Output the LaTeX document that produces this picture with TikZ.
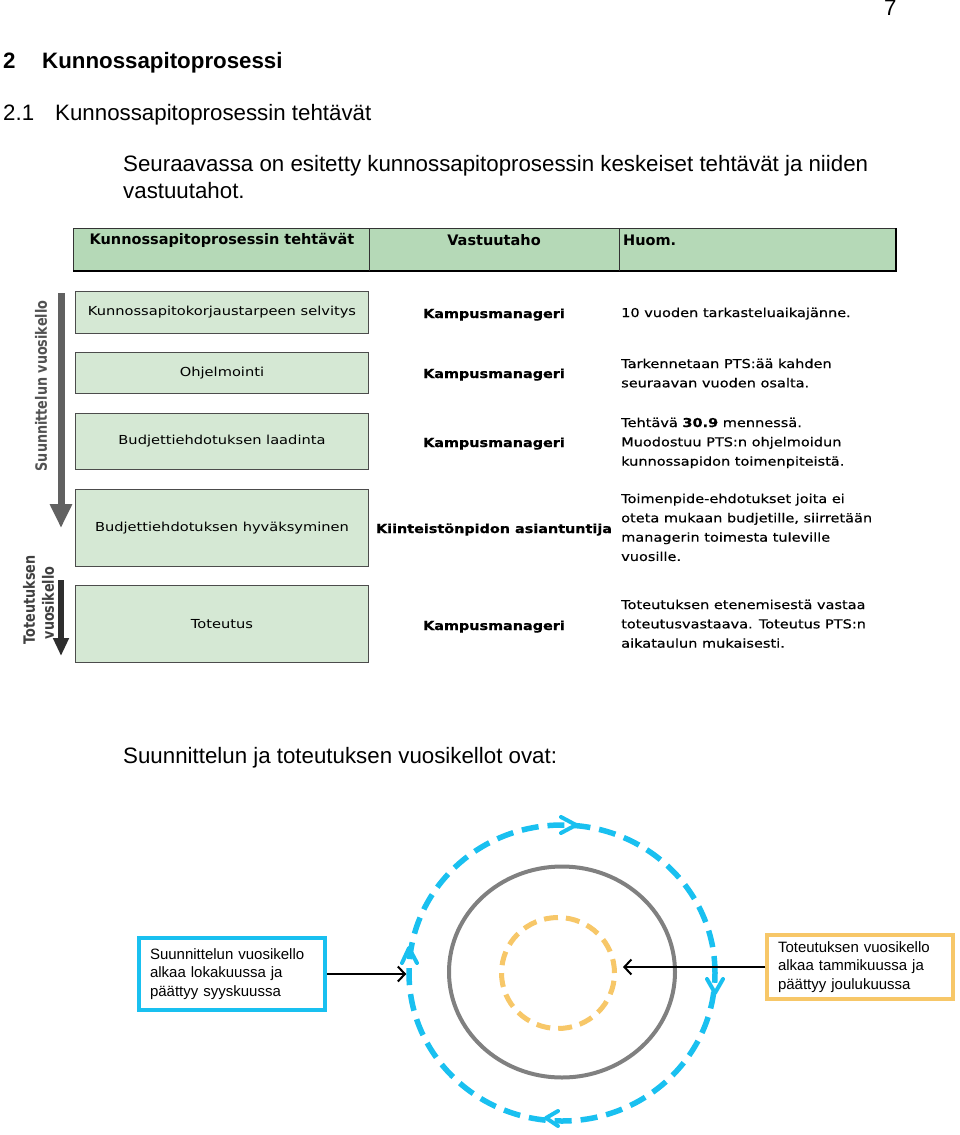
\documentclass[tikz,border=0pt]{standalone}
\usepackage{fontspec}
\setmainfont{Liberation Sans}
\newfontfamily\vfont[FakeStretch=1.18]{DejaVu Sans}
\newfontfamily\nfont[FakeStretch=1.18, FakeBold=0.5]{DejaVu Sans}
\newfontfamily\rfont[FakeStretch=1.16, BoldFeatures={FakeBold=0.8}]{DejaVu Sans}
\newfontfamily\hfont{DejaVu Sans}
\newfontfamily\sidefont[FakeStretch=0.82]{DejaVu Sans}
\usetikzlibrary{shapes.geometric,arrows.meta}
\definecolor{hdrgreen}{RGB}{181,217,183}
\definecolor{rowgreen}{RGB}{213,232,212}
\definecolor{cyanb}{RGB}{25,192,240}
\definecolor{orangeb}{RGB}{247,199,104}
\definecolor{grayc}{RGB}{128,128,128}
\tikzset{
  body/.style={font=\fontsize{22.3}{26}\selectfont, anchor=base west, inner sep=0pt},
  bodyb/.style={body, font=\bfseries\fontsize{22.3}{26}\selectfont},
  hdrtext/.style={font=\hfont\bfseries\fontsize{14.5}{16}\selectfont, inner sep=0pt},
  rowbox/.style={draw=black!70, line width=1pt, fill=rowgreen, anchor=north west,
    minimum width=293pt, font=\vfont\fontsize{12.4}{15}\selectfont},
  resp/.style={font=\rfont\bfseries\fontsize{12.4}{15}\selectfont, anchor=base, inner sep=0pt},
  note/.style={font=\nfont\fontsize{12.3}{19.3}\selectfont, anchor=north west, align=left, inner sep=0pt},
  sidetext/.style={rotate=90, font=\sidefont\bfseries\fontsize{15.6}{17}\selectfont, inner sep=0pt},
  infobox/.style={line width=3.5pt, minimum width=186pt, text width=164pt, align=left,
    font=\fontsize{15}{18.5}\selectfont},
  callout/.style={line width=2pt, -{Straight Barb[length=7pt,width=15pt]}},
  chev/.style={cyanb, line width=4pt, line cap=round, line join=round}
}
\begin{document}
\begin{tikzpicture}[x=1pt,y=-1pt]
\useasboundingbox (0,0) rectangle (960,1135);
\fill[white] (0,0) rectangle (960,1135);

% page heading texts
\node[body] (pg) at (884,16) {7};
\node[bodyb] (h1n) at (3,68) {2};
\node[bodyb] (h1) at (42,68) {Kunnossapitoprosessi};
\node[body] (h2n) at (3,120) {2.1};
\node[body] (h2) at (55,120) {Kunnossapitoprosessin tehtävät};
\node[body] (p1) at (123,171) {Seuraavassa on esitetty kunnossapitoprosessin keskeiset tehtävät ja niiden};
\node[body] (p2) at (123,198) {vastuutahot.};

% table header
\fill[hdrgreen] (73,228) rectangle (896,271);
\draw[black!80, line width=1pt] (73,271) -- (73,228) -- (896,228);
\draw[black, line width=2.6pt] (73,271) -- (896,271) -- (896,228);
\draw[black!80, line width=1pt] (369,228) -- (369,271) (619,228) -- (619,271);
\node[hdrtext] (th1) at (222,240) {Kunnossapitoprosessin tehtävät};
\node[hdrtext] (th2) at (494,240) {Vastuutaho};
\node[hdrtext, anchor=west] (th3) at (623,240) {Huom.};

% rows
\node[rowbox, minimum height=42pt] (r1) at (75,291) {Kunnossapitokorjaustarpeen selvitys};
\node[rowbox, minimum height=41pt] (r2) at (75,352) {Ohjelmointi};
\node[rowbox, minimum height=56pt] (r3) at (75,413) {Budjettiehdotuksen laadinta};
\node[rowbox, minimum height=77pt] (r4) at (75,489) {Budjettiehdotuksen hyväksyminen};
\node[rowbox, minimum height=77pt] (r5) at (75,585) {Toteutus};

\node[resp] (v1) at (494,318) {Kampusmanageri};
\node[resp] (v2) at (494,378) {Kampusmanageri};
\node[resp] (v3) at (494,447) {Kampusmanageri};
\node[resp] (v4) at (494,533) {Kiinteistönpidon asiantuntija};
\node[resp] (v5) at (494,630) {Kampusmanageri};

\node[note] (n1) at (621,307.5) {10 vuoden tarkasteluaikajänne.};
\node[note] (n2) at (621,358.5) {Tarkennetaan PTS:ää kahden\\seuraavan vuoden osalta.};
\node[note] (n3) at (621,417.5) {Tehtävä {\bfseries 30.9} mennessä.\\Muodostuu PTS:n ohjelmoidun\\kunnossapidon toimenpiteistä.};
\node[note] (n4) at (621,493.5) {Toimenpide-ehdotukset joita ei\\oteta mukaan budjetille, siirretään\\managerin toimesta tuleville\\vuosille.};
\node[note] (n5) at (621,599.5) {Toteutuksen etenemisestä vastaa\\toteutusvastaava. Toteutus PTS:n\\aikataulun mukaisesti.};

% side arrows
\coordinate (a1s) at (61,293);
\coordinate (a1e) at (61,528);
\draw[black!62, line width=7pt, -{Triangle[width=21pt,length=24pt]}] (a1s) -- (a1e);
\node[sidetext, text=black!68] (s1) at (41,386) {Suunnittelun vuosikello};
\coordinate (a2s) at (61,580);
\coordinate (a2e) at (61,656);
\draw[black!82, line width=6pt, -{Triangle[width=15pt,length=18pt]}] (a2s) -- (a2e);
\node[sidetext, text=black!75] (s2) at (29,600) {Toteutuksen};
\node[sidetext, text=black!75] (s3) at (48,603) {vuosikello};

\node[body] (p3) at (123,763) {Suunnittelun ja toteutuksen vuosikellot ovat:};

% year clocks
\node[ellipse, draw=cyanb, line width=5.5pt, dash pattern=on 17pt off 9pt,
  minimum width=306pt, minimum height=296pt, inner sep=0pt] (outer) at (562,973) {};
\node[ellipse, draw=grayc, line width=4pt,
  minimum width=226pt, minimum height=211pt, inner sep=0pt] (mid) at (562,972) {};
\node[ellipse, draw=orangeb, line width=5pt, dash pattern=on 14pt off 8pt,
  minimum width=113pt, minimum height=111pt, inner sep=0pt] (inner) at (558,973) {};

% direction chevrons on the outer ring
\draw[chev] (561,817) -- (576,825) -- (561,833);
\draw[chev] (707,979) -- (715,993) -- (723,979);
\draw[chev] (558,1111) -- (546,1118) -- (558,1126);
\draw[chev] (402,963) -- (409,948) -- (417,963);

% info boxes
\node[infobox, draw=cyanb, minimum height=72pt] (lb) at (232,974)
  {Suunnittelun vuosikello\\alkaa lokakuussa ja\\päättyy syyskuussa};
\node[infobox, draw=orangeb, minimum height=64pt] (rb) at (860,967)
  {Toteutuksen vuosikello\\alkaa tammikuussa ja\\päättyy joulukuussa};

\draw[callout] (lb.east) -- (lb.east -| outer.west);
\draw[callout, shorten >=6pt] (rb.west) -- (rb.west -| inner.east);
\end{tikzpicture}
\end{document}
